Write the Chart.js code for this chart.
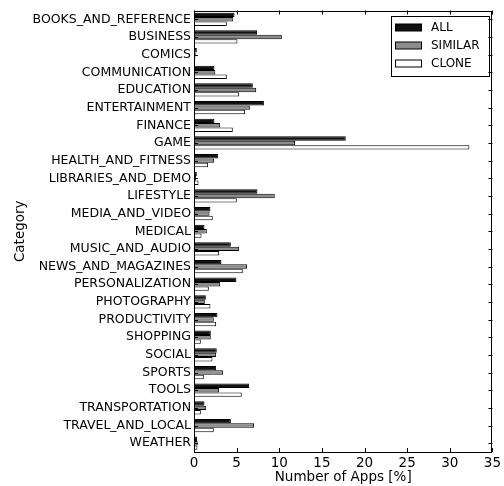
<!DOCTYPE html>
<html>
<head>
<meta charset="utf-8">
<script src="https://cdn.jsdelivr.net/npm/chart.js@4.4.1/dist/chart.umd.min.js"></script>
<style>
  html, body { margin: 0; padding: 0; background: #fff; }
  #wrap { width: 504px; height: 486px; }
</style>
</head>
<body>
<div id="wrap"><canvas id="chart" width="504" height="486"></canvas></div>
<script>
// 類別
const categories = [
    'BOOKS_AND_REFERENCE', 'BUSINESS', 'COMICS', 'COMMUNICATION', 'EDUCATION',
    'ENTERTAINMENT', 'FINANCE', 'GAME', 'HEALTH_AND_FITNESS', 'LIBRARIES_AND_DEMO',
    'LIFESTYLE', 'MEDIA_AND_VIDEO', 'MEDICAL', 'MUSIC_AND_AUDIO', 'NEWS_AND_MAGAZINES',
    'PERSONALIZATION', 'PHOTOGRAPHY', 'PRODUCTIVITY', 'SHOPPING', 'SOCIAL',
    'SPORTS', 'TOOLS', 'TRANSPORTATION', 'TRAVEL_AND_LOCAL', 'WEATHER'
];

// 各系列數值 (%)
const allValues = [
    4.75, 7.4, 0.33, 2.4, 6.9,
    8.2, 2.4, 17.8, 2.84, 0.33,
    7.44, 1.93, 1.23, 4.32, 3.22,
    4.98, 1.39, 2.75, 1.97, 2.67,
    2.6, 6.47, 1.23, 4.32, 0.37
];
const similarValues = [
    4.6, 10.3, 0.2, 2.5, 7.3,
    6.55, 3.07, 11.86, 2.37, 0.25,
    9.47, 1.82, 1.5, 5.3, 6.23,
    3.07, 1.27, 2.32, 1.97, 2.6,
    3.42, 2.95, 1.43, 7.05, 0.43
];
const cloneValues = [
    3.85, 5.1, 0.15, 3.85, 5.3,
    6.0, 4.55, 32.3, 1.66, 0.53,
    5.02, 2.2, 0.88, 2.95, 5.72,
    1.74, 1.93, 2.6, 0.8, 2.17,
    1.15, 5.6, 0.8, 2.32, 0.4
];

// x 軸刻度
const xTicks = [0, 5, 10, 15, 20, 25, 30, 35];

const seriesNames = ['ALL', 'SIMILAR', 'CLONE'];
const seriesColors = ['#111111', '#8c8c8c', '#ffffff'];

Chart.defaults.color = '#000';
Chart.defaults.font.family = '"DejaVu Sans", sans-serif';

// 圖例、邊框與內向刻度
const framePlugin = {
    id: 'frame',
    afterDatasetsDraw(chart) {
        const { ctx, chartArea: a, scales: { x, y } } = chart;
        ctx.save();
        ctx.strokeStyle = '#000';
        ctx.lineWidth = 1;
        const line = (x1, y1, x2, y2) => {
            ctx.beginPath();
            ctx.moveTo(x1, y1);
            ctx.lineTo(x2, y2);
            ctx.stroke();
        };

        // 圖例
        const boxW = 98, boxH = 60;
        const bx = Math.round(a.right - 3 - boxW), by = Math.round(a.top + 5);
        ctx.fillStyle = '#fff';
        ctx.fillRect(bx, by, boxW, boxH);
        ctx.strokeRect(bx + 0.5, by + 0.5, boxW, boxH);
        ctx.font = '12px "DejaVu Sans", sans-serif';
        ctx.textBaseline = 'middle';
        chart.data.datasets.forEach((ds, i) => {
            const cy = by + 11.5 + i * 18;
            ctx.fillStyle = ds.backgroundColor;
            ctx.fillRect(bx + 4.5, cy - 3.5, 26, 7);
            ctx.strokeRect(bx + 4.5, cy - 3.5, 26, 7);
            ctx.fillStyle = '#000';
            ctx.fillText(ds.label, bx + 40, cy + 0.5);
        });

        // 邊框
        ctx.strokeRect(Math.round(a.left) + 0.5, Math.round(a.top) + 0.5,
            Math.round(a.right - a.left) - 1, Math.round(a.bottom - a.top) - 1);

        x.ticks.forEach(t => {
            const px = Math.round(x.getPixelForValue(t.value)) + 0.5;
            line(px, a.bottom, px, a.bottom - 4);
            line(px, a.top, px, a.top + 4);
        });
        y.ticks.forEach((t, i) => {
            const py = Math.round(y.getPixelForTick(i)) + 0.5;
            line(a.left, py, a.left + 4, py);
            line(a.right, py, a.right - 4, py);
        });
        ctx.restore();
    }
};

const datasets = [allValues, similarValues, cloneValues].map((vals, i) => ({
    label: seriesNames[i],
    data: vals,
    backgroundColor: seriesColors[i],
    borderColor: '#000',
    borderWidth: 1,
    borderSkipped: false,
    categoryPercentage: 0.75,
    barPercentage: 1.0
}));

new Chart(document.getElementById('chart'), {
    type: 'bar',
    data: { labels: categories, datasets: datasets },
    options: {
        indexAxis: 'y',
        responsive: false,
        animation: false,
        layout: { padding: { top: 9, right: 11, bottom: 0, left: 0 } },
        plugins: {
            legend: { display: false },
            tooltip: { enabled: false }
        },
        scales: {
            x: {
                min: 0,
                max: 35,
                afterBuildTicks(scale) {
                    scale.ticks = xTicks.map(v => ({ value: v }));
                },
                grid: { display: false, drawTicks: false },
                border: { display: false },
                ticks: { font: { size: 13.5 }, padding: 3, maxRotation: 0 },
                title: {
                    display: true,
                    text: 'Number of Apps [%]',
                    font: { size: 13.5 },
                    padding: { top: 0, bottom: 0 }
                },
                afterFit(scale) { scale.height = 34; }
            },
            y: {
                grid: { display: false, drawTicks: false },
                border: { display: false },
                ticks: { font: { size: 12.5 }, padding: 3, autoSkip: false },
                title: {
                    display: true,
                    text: 'Category',
                    font: { size: 13.5 },
                    padding: { top: 12, bottom: 0 }
                },
                afterFit(scale) { scale.width = 194; }
            }
        }
    },
    plugins: [framePlugin]
});
</script>
</body>
</html>
